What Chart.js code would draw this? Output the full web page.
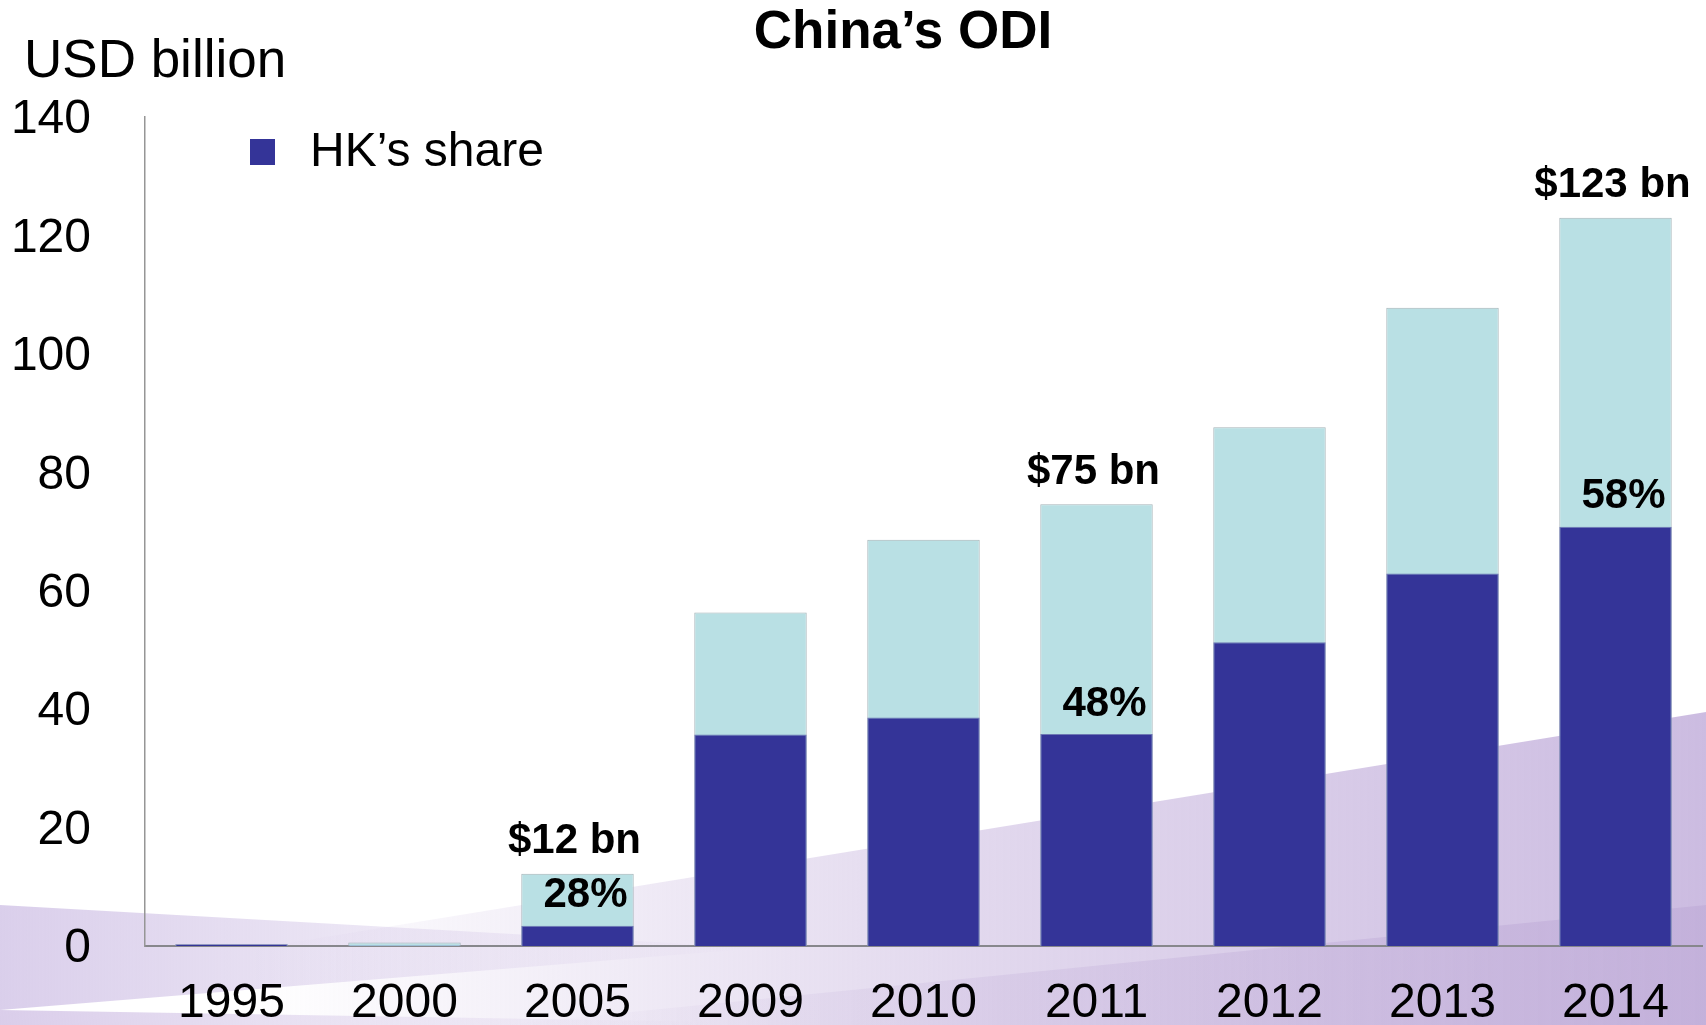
<!DOCTYPE html>
<html>
<head>
<meta charset="utf-8">
<script src="https://cdn.jsdelivr.net/npm/chart.js@4.4.0/dist/chart.umd.min.js"></script>
<style>
html, body { margin: 0; padding: 0; background: #fff; }
#wrap { width: 1706px; height: 1025px; }
</style>
</head>
<body>
<div id="wrap"><canvas id="odiChart" width="1706" height="1025"></canvas></div>
<script>
// values, USD billion
const years = ['1995', '2000', '2005', '2009', '2010', '2011', '2012', '2013', '2014'];
const totalOdi = [0.3, 0.6, 12.2, 56.3, 68.6, 74.6, 87.6, 107.8, 123];
const hkShare = [0.3, 0.1, 3.4, 35.7, 38.6, 35.8, 51.3, 62.9, 70.8];
const totalLabels = ['', '', '$12 bn', '', '', '$75 bn', '', '', '$123 bn'];
const shareLabels = ['', '', '28%', '', '', '48%', '', '', '58%'];
const yTicks = [0, 20, 40, 60, 80, 100, 120, 140];

const FONT = '"Liberation Sans", Arial, sans-serif';
const DARK = 'rgb(52,52,152)';
const LIGHT = 'rgb(185,224,228)';

// lavender swoosh behind the chart
const backdrop = {
    id: 'backdrop',
    beforeDraw(chart) {
        const ctx = chart.ctx;
        ctx.save();
        let g = ctx.createLinearGradient(0, 0, 760, 0);
        g.addColorStop(0, 'rgba(216,204,234,0.95)');
        g.addColorStop(1, 'rgba(216,204,234,0)');
        ctx.fillStyle = g;
        ctx.beginPath();
        ctx.moveTo(0, 905); ctx.lineTo(760, 948); ctx.lineTo(0, 1010);
        ctx.closePath(); ctx.fill();

        g = ctx.createLinearGradient(250, 0, 1706, 0);
        g.addColorStop(0, 'rgba(206,190,226,0)');
        g.addColorStop(0.5, 'rgba(206,190,226,0.6)');
        g.addColorStop(1, 'rgba(204,188,225,1)');
        ctx.fillStyle = g;
        ctx.beginPath();
        ctx.moveTo(0, 990); ctx.lineTo(1706, 712); ctx.lineTo(1706, 1025); ctx.lineTo(0, 1025);
        ctx.closePath(); ctx.fill();

        g = ctx.createLinearGradient(0, 1025, 700, 940);
        g.addColorStop(0, 'rgba(214,200,232,0.9)');
        g.addColorStop(1, 'rgba(214,200,232,0)');
        ctx.fillStyle = g;
        ctx.beginPath();
        ctx.moveTo(0, 1010); ctx.lineTo(900, 1025); ctx.lineTo(0, 1025);
        ctx.closePath(); ctx.fill();

        g = ctx.createLinearGradient(500, 0, 1706, 0);
        g.addColorStop(0, 'rgba(190,170,215,0)');
        g.addColorStop(1, 'rgba(190,170,215,0.6)');
        ctx.fillStyle = g;
        ctx.beginPath();
        ctx.moveTo(500, 1025); ctx.lineTo(1706, 905); ctx.lineTo(1706, 1025);
        ctx.closePath(); ctx.fill();
        ctx.restore();
    }
};

const barLabels = {
    id: 'barLabels',
    afterDatasetsDraw(chart) {
        const ctx = chart.ctx;
        const xs = chart.scales.x, ys = chart.scales.y;
        ctx.save();
        ctx.font = 'bold 42px ' + FONT;
        ctx.fillStyle = '#000';
        ctx.textAlign = 'center';
        ctx.textBaseline = 'middle';
        years.forEach((yr, i) => {
            const cx = xs.getPixelForValue(i);
            if (totalLabels[i]) ctx.fillText(totalLabels[i], cx - 3, ys.getPixelForValue(totalOdi[i]) - 32);
            if (shareLabels[i]) ctx.fillText(shareLabels[i], cx + 8, ys.getPixelForValue(hkShare[i]) - 30);
        });
        ctx.restore();
    },
    afterDraw(chart) {
        const ctx = chart.ctx;
        ctx.save();
        ctx.fillStyle = '#000';
        ctx.textBaseline = 'alphabetic';
        ctx.textAlign = 'center';
        ctx.font = 'bold 53px ' + FONT;
        ctx.fillText('China\u2019s ODI', 903, 48);
        ctx.textAlign = 'left';
        ctx.font = '53px ' + FONT;
        ctx.fillText('USD billion', 24, 77);
        // legend
        ctx.fillStyle = DARK;
        ctx.fillRect(250, 139, 25, 26);
        ctx.fillStyle = '#000';
        ctx.font = '48px ' + FONT;
        ctx.textBaseline = 'middle';
        ctx.fillText('HK\u2019s share', 310, 153);
        ctx.restore();
    }
};

const odiChart = new Chart(document.getElementById('odiChart').getContext('2d'), {
    type: 'bar',
    data: {
        labels: years,
        datasets: [{
            label: "HK's share",
            data: hkShare,
            backgroundColor: DARK,
            borderColor: 'rgb(110,120,180)',
            borderWidth: 1,
            grouped: false,
            barPercentage: 0.65,
            categoryPercentage: 1
        }, {
            label: "China's ODI",
            data: totalOdi,
            backgroundColor: LIGHT,
            borderColor: 'rgb(165,180,184)',
            borderWidth: 1,
            grouped: false,
            barPercentage: 0.65,
            categoryPercentage: 1
        }]
    },
    options: {
        responsive: false,
        devicePixelRatio: 1,
        animation: false,
        layout: { padding: { top: 117, right: 4, left: 0, bottom: 0 } },
        plugins: {
            legend: { display: false },
            title: { display: false },
            tooltip: { enabled: false }
        },
        scales: {
            x: {
                grid: { display: false, drawTicks: false },
                border: { display: true, color: 'rgb(135,135,140)', width: 2 },
                ticks: { color: '#000', font: { family: FONT, size: 48, lineHeight: 1 }, padding: 34 },
                afterFit(scale) { scale.height = 79; }
            },
            y: {
                min: 0,
                max: 140,
                afterBuildTicks(scale) { scale.ticks = yTicks.map(v => ({ value: v })); },
                grid: { display: false, drawTicks: false },
                border: { display: true, color: 'rgb(150,150,150)', width: 1.5 },
                ticks: { color: '#000', font: { family: FONT, size: 48 }, padding: 54, labelOffset: 3 },
                afterFit(scale) {
                    scale.width = 145;
                    // tick padding is only for the label gap, not for vertical room
                    scale.paddingTop = 30;
                    scale.paddingBottom = 30;
                }
            }
        }
    },
    plugins: [backdrop, barLabels]
});
</script>
</body>
</html>
